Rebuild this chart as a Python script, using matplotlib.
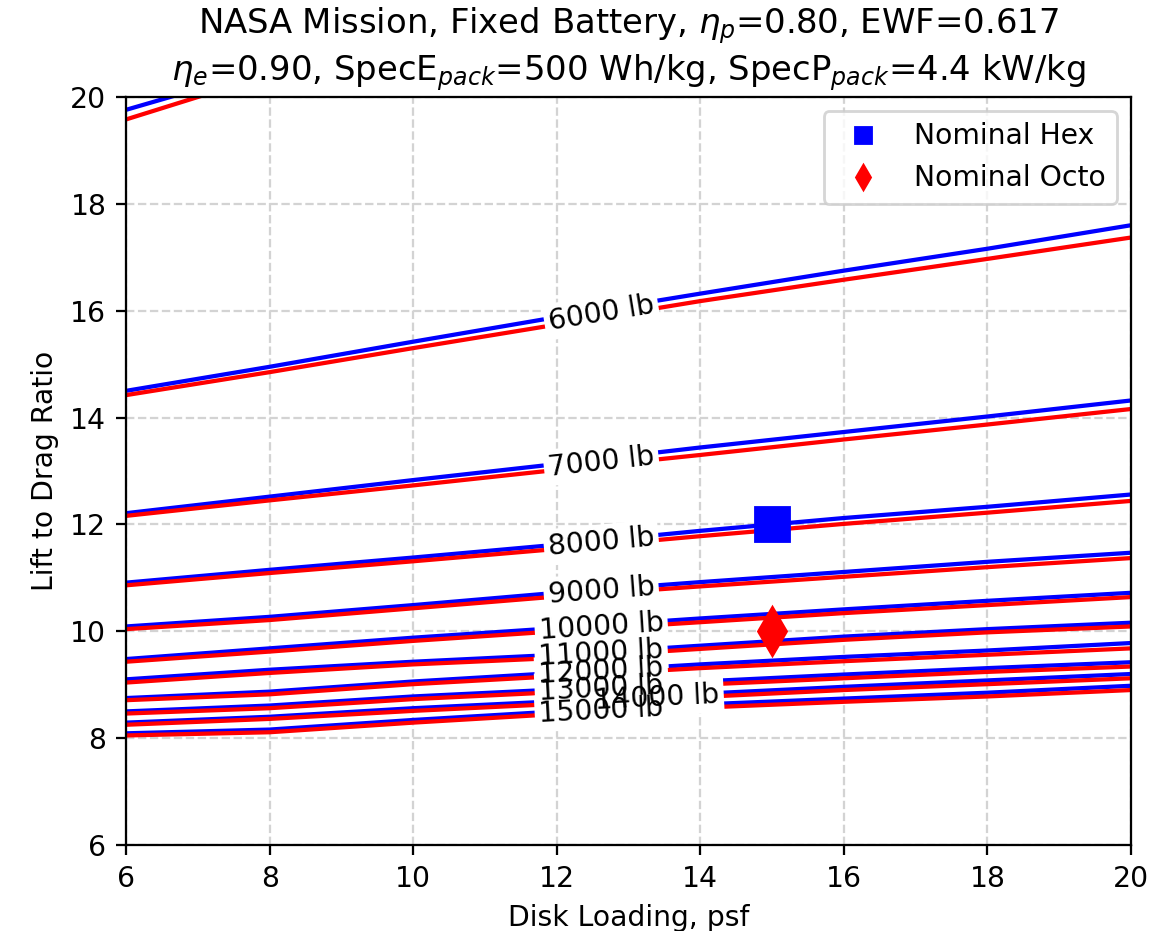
import numpy as np
import matplotlib.pyplot as plt

# disk loading stations (psf) where the L/D of each weight contour was read
disk_loading = [6, 8, 10, 12, 14, 16, 18, 20]

weights = [5000, 6000, 7000, 8000, 9000, 10000, 11000, 12000, 13000, 14000, 15000]

# hex (blue) contours, L/D at each disk loading station
ld_hex = {
    5000: [19.76, 20.54, 21.3, 22.0, 22.7, 23.4, 24.1, 24.8],
    6000: [14.50, 14.95, 15.42, 15.88, 16.32, 16.75, 17.16, 17.60],
    7000: [12.21, 12.52, 12.83, 13.13, 13.44, 13.73, 14.02, 14.32],
    8000: [10.91, 11.15, 11.38, 11.62, 11.88, 12.12, 12.33, 12.56],
    9000: [10.09, 10.27, 10.49, 10.72, 10.92, 11.11, 11.30, 11.47],
    10000: [9.48, 9.68, 9.88, 10.06, 10.24, 10.41, 10.57, 10.72],
    11000: [9.10, 9.28, 9.43, 9.56, 9.73, 9.90, 10.04, 10.16],
    12000: [8.75, 8.87, 9.06, 9.22, 9.38, 9.52, 9.64, 9.78],
    13000: [8.50, 8.61, 8.78, 8.91, 9.06, 9.19, 9.31, 9.42],
    14000: [8.29, 8.40, 8.56, 8.69, 8.83, 8.96, 9.08, 9.20],
    15000: [8.09, 8.16, 8.34, 8.50, 8.63, 8.74, 8.85, 8.98],
}

# octo (red) contours
ld_octo = {
    5000: [19.58, 20.42, 21.2, 21.9, 22.6, 23.3, 24.0, 24.7],
    6000: [14.42, 14.85, 15.30, 15.74, 16.18, 16.58, 16.97, 17.37],
    7000: [12.16, 12.45, 12.73, 13.02, 13.30, 13.59, 13.87, 14.16],
    8000: [10.86, 11.09, 11.31, 11.54, 11.78, 12.01, 12.22, 12.44],
    9000: [10.04, 10.21, 10.43, 10.65, 10.84, 11.02, 11.20, 11.37],
    10000: [9.43, 9.62, 9.82, 10.00, 10.17, 10.34, 10.49, 10.64],
    11000: [9.04, 9.22, 9.38, 9.50, 9.67, 9.84, 9.98, 10.09],
    12000: [8.71, 8.82, 9.01, 9.16, 9.31, 9.44, 9.56, 9.68],
    13000: [8.46, 8.56, 8.73, 8.86, 9.00, 9.12, 9.24, 9.34],
    14000: [8.25, 8.36, 8.51, 8.64, 8.77, 8.90, 9.01, 9.12],
    15000: [8.05, 8.11, 8.29, 8.45, 8.57, 8.68, 8.78, 8.90],
}

# where the inline labels sit along disk loading
label_x = {6000: 12.62, 7000: 12.62, 8000: 12.62, 9000: 12.62, 10000: 12.62,
           11000: 12.62, 12000: 12.62, 13000: 12.62, 14000: 13.40, 15000: 12.62}

hex_dl, hex_ld = [15], [12]
octo_dl, octo_ld = [15], [10]

fig = plt.figure(figsize=(1169 / 203, 931 / 203), dpi=203)
ax = fig.add_axes([0.1078, 0.0924, 0.8597, 0.8034])

for w in weights:
    ax.plot(disk_loading, ld_hex[w], color='b', lw=1.5, zorder=2)
for w in weights:
    ax.plot(disk_loading, ld_octo[w], color='r', lw=1.5, zorder=2)

dl = np.array(disk_loading, dtype=float)
for w, xl in label_x.items():
    mid = (np.array(ld_hex[w]) + np.array(ld_octo[w])) / 2
    yl = np.interp(xl, dl, mid)
    slope = np.interp(xl, dl, np.gradient(mid, dl))
    ang = np.degrees(np.arctan(slope))
    txt = '%d lb' % w
    # white patch first so overlapping labels both stay readable
    ax.text(xl, yl, txt, fontsize=10, color='none', ha='center', va='center',
            rotation=ang, transform_rotates_text=True, rotation_mode='anchor',
            bbox=dict(boxstyle='square,pad=0.15', fc='white', ec='none'), zorder=3)
    ax.text(xl, yl, txt, fontsize=10, color='k', ha='center', va='center',
            rotation=ang, transform_rotates_text=True, rotation_mode='anchor', zorder=4)

ax.plot(hex_dl, hex_ld, 'bs', ms=12, label='Nominal Hex', zorder=5)
ax.plot(octo_dl, octo_ld, 'rd', ms=12, label='Nominal Octo', zorder=5)

ax.set_xlim(6, 20)
ax.set_ylim(6, 20)
ax.set_xticks(np.arange(6, 21, 2))
ax.set_yticks(np.arange(6, 21, 2))
ax.grid(True, linestyle='--', color='lightgray')
ax.set_axisbelow(True)
ax.set_xlabel('Disk Loading, psf')
ax.set_ylabel('Lift to Drag Ratio')
ax.set_title('NASA Mission, Fixed Battery, $\\eta_p$=0.80, EWF=0.617\n'
             '$\\eta_e$=0.90, SpecE$_{pack}$=500 Wh/kg, SpecP$_{pack}$=4.4 kW/kg')
ax.legend(loc='upper right', markerscale=0.5)

fig.savefig('out.png', dpi=203)
